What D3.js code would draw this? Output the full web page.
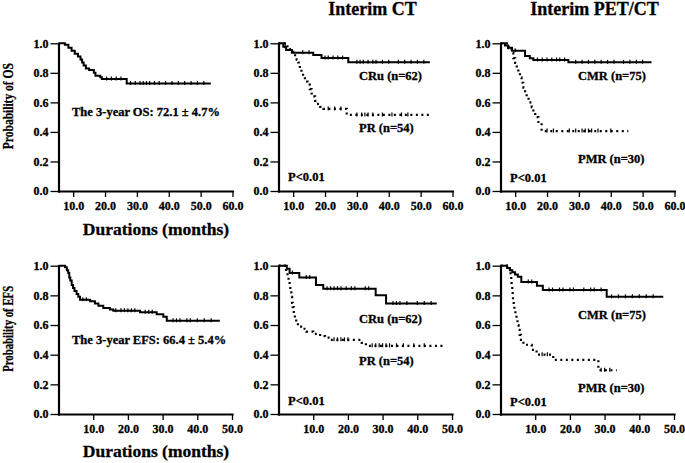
<!DOCTYPE html>
<html><head><meta charset="utf-8">
<script src="https://cdn.jsdelivr.net/npm/d3@7"></script>
<style>
body{margin:0;background:#fff;}
svg text{font-family:"Liberation Serif","Times New Roman",serif;font-weight:bold;fill:#000;stroke:#000;stroke-width:0.3px;}
</style></head>
<body><svg id="c" width="685" height="463"></svg>
<script>
// ---------- DATA ----------
const panelTitles = ["Interim CT", "Interim PET/CT"];
const yTicks = [0, 0.2, 0.4, 0.6, 0.8, 1.0];
const xTicksTop = [10, 20, 30, 40, 50, 60];
const xTicksBottom = [10, 20, 30, 40, 50];
const xDomainTop = [5.4, 60];
const xDomainBottom = [0, 50];

// Overall OS
const osT = [5.4, 7.4, 8.5, 9.5, 10.5, 11.5, 12.3, 12.8, 13.3, 14.0, 15.0, 16.5, 17.0, 18.5, 19.0, 26.8];
const osS = [1.0, 0.99, 0.97, 0.95, 0.93, 0.91, 0.89, 0.87, 0.85, 0.83, 0.82, 0.80, 0.78, 0.77, 0.758, 0.728];
const osEnd = 53.2;
const osCens = [20.5, 22, 23.5, 25, 28, 29.5, 31, 32, 33, 34, 35.5, 37, 39, 41, 43, 45, 47, 49, 51];

// Interim CT, OS
const ctCRuT = [5.4, 6.9, 7.8, 9.6, 16.3, 18.9, 27.3];
const ctCRuS = [1.0, 0.977, 0.955, 0.936, 0.92, 0.90, 0.872];
const ctCRuEnd = 52.9;
const ctCRuCens = [7.5, 13, 15, 20, 21, 22.5, 24, 25.5, 30, 31, 32, 33.5, 35, 36, 38, 40, 43, 45, 47, 49, 51];
const ctPRT = [5.4, 8.0, 9.0, 10.0, 10.6, 11.1, 11.6, 12.1, 12.6, 13.1, 13.7, 14.5, 15.2, 15.8, 16.3, 16.9, 17.4, 18.5, 19.5, 26.8];
const ctPRS = [1.0, 0.98, 0.96, 0.94, 0.91, 0.89, 0.87, 0.83, 0.80, 0.78, 0.74, 0.72, 0.69, 0.66, 0.64, 0.61, 0.59, 0.57, 0.556, 0.515];
const ctPREnd = 52.9;
const ctPRCens = [21, 23, 25, 30, 31.5, 32.5, 33.5, 35, 38, 41, 44, 46];

// Interim PET/CT, OS
const petCMRT = [5.4, 6.8, 7.8, 9.0, 13.1, 14.6, 15.7, 26.7];
const petCMRS = [1.0, 0.985, 0.97, 0.95, 0.914, 0.898, 0.887, 0.871];
const petCMREnd = 52.8;
const petCMRCens = [8, 10, 17, 18.5, 20, 21.5, 23, 24, 25.5, 29, 31, 33, 35, 37, 39, 41, 44, 46, 48, 50];
const petPMRT = [5.4, 7.9, 8.9, 9.4, 10.0, 10.5, 11.0, 11.5, 12.0, 12.6, 13.1, 13.6, 14.2, 15.2, 15.7, 16.3, 17.3, 18.3];
const petPMRS = [1.0, 0.967, 0.933, 0.90, 0.867, 0.833, 0.80, 0.767, 0.733, 0.70, 0.667, 0.633, 0.60, 0.567, 0.533, 0.50, 0.467, 0.406];
const petPMREnd = 45.5;
const petPMRCens = [20, 22, 27, 29, 31, 32, 33, 34, 36, 40];

// Overall EFS
const efsT = [0, 1.9, 2.4, 2.8, 3.1, 3.4, 3.8, 4.2, 4.6, 5.2, 5.7, 6.2, 9.1, 10.5, 11.5, 12.9, 14.8, 15.8, 23.5, 28.3, 30.2, 31.2];
const efsS = [1.0, 0.99, 0.97, 0.95, 0.92, 0.90, 0.87, 0.85, 0.83, 0.81, 0.79, 0.77, 0.76, 0.745, 0.73, 0.715, 0.705, 0.697, 0.686, 0.672, 0.656, 0.628];
const efsEnd = 46.5;
const efsCens = [7, 8, 16.5, 18, 19, 20, 21, 22, 25, 26, 27, 33, 34, 35, 37, 38, 40, 42, 44];

// Interim CT, EFS
const eCRuT = [0, 2.4, 3.2, 6.0, 10.8, 12.9, 28.0, 31.0];
const eCRuS = [1.0, 0.98, 0.95, 0.92, 0.87, 0.845, 0.80, 0.745];
const eCRuEnd = 45.6;
const eCRuCens = [4, 8, 9, 14, 15, 16, 17, 18, 19.5, 21, 22, 25, 26, 33, 34, 35, 37, 40, 42, 44];
const ePRT = [0, 2.2, 2.6, 2.9, 3.2, 3.4, 3.7, 3.9, 4.1, 4.4, 4.7, 5.1, 5.6, 6.5, 8.0, 10.0, 12.0, 13.4, 15.0, 24.0, 25.2];
const ePRS = [1.0, 0.96, 0.93, 0.89, 0.86, 0.82, 0.79, 0.75, 0.72, 0.68, 0.65, 0.62, 0.59, 0.575, 0.555, 0.54, 0.525, 0.515, 0.50, 0.48, 0.46];
const ePREnd = 47.5;
const ePRCens = [16, 17, 18, 19, 20, 27, 28, 29, 30, 31, 32, 34, 36, 39, 42];

// Interim PET/CT, EFS
const eCMRT = [0, 1.9, 2.7, 3.4, 4.2, 5.0, 6.0, 10.5, 12.2, 30.6];
const eCMRS = [1.0, 0.985, 0.97, 0.955, 0.94, 0.925, 0.89, 0.865, 0.836, 0.79];
const eCMREnd = 46.9;
const eCMRCens = [8, 9, 14, 15, 17, 18, 20, 21, 24, 26, 27, 29, 32, 34, 36, 38, 40, 42, 44];
const ePMRT = [0, 2.7, 2.9, 3.1, 3.2, 3.4, 3.5, 3.6, 3.8, 4.0, 4.3, 4.6, 4.9, 5.2, 5.5, 5.9, 6.6, 9.0, 10.4, 15.2, 28.2];
const ePMRS = [1.0, 0.967, 0.933, 0.90, 0.867, 0.833, 0.80, 0.767, 0.733, 0.70, 0.667, 0.633, 0.60, 0.567, 0.533, 0.50, 0.467, 0.433, 0.40, 0.365, 0.295];
const ePMREnd = 33.5;
const ePMRCens = [12, 13.5, 29, 30, 31.5];

// ---------- DRAW ----------
const svg = d3.select("#c");
const FONT = 12.5;

const panels = [
  {row:0, dx:0,   curves:[{t:osT,s:osS,end:osEnd,c:osCens,dash:false}],
   notes:[{x:72, y:116, txt:"The 3-year OS: 72.1 \u00b1 4.7%"}], ylab:"Probability of OS"},
  {row:0, dx:220, curves:[{t:ctCRuT,s:ctCRuS,end:ctCRuEnd,c:ctCRuCens,dash:false},{t:ctPRT,s:ctPRS,end:ctPREnd,c:ctPRCens,dash:true}],
   notes:[{x:359,y:80,txt:"CRu (n=62)"},{x:359,y:132,txt:"PR (n=54)"},{x:288,y:181,txt:"P<0.01"}], title:panelTitles[0]},
  {row:0, dx:442, curves:[{t:petCMRT,s:petCMRS,end:petCMREnd,c:petCMRCens,dash:false},{t:petPMRT,s:petPMRS,end:petPMREnd,c:petPMRCens,dash:true}],
   notes:[{x:578,y:80,txt:"CMR (n=75)"},{x:578,y:163,txt:"PMR (n=30)"},{x:510,y:182,txt:"P<0.01"}], title:panelTitles[1]},
  {row:1, dx:0,   curves:[{t:efsT,s:efsS,end:efsEnd,c:efsCens,dash:false}],
   notes:[{x:72, y:344, txt:"The 3-year EFS: 66.4 \u00b1 5.4%"}], ylab:"Probability of EFS"},
  {row:1, dx:220, curves:[{t:eCRuT,s:eCRuS,end:eCRuEnd,c:eCRuCens,dash:false},{t:ePRT,s:ePRS,end:ePREnd,c:ePRCens,dash:true}],
   notes:[{x:359,y:323,txt:"CRu (n=62)"},{x:359,y:365,txt:"PR (n=54)"},{x:288,y:405,txt:"P<0.01"}]},
  {row:1, dx:442, curves:[{t:eCMRT,s:eCMRS,end:eCMREnd,c:eCMRCens,dash:false},{t:ePMRT,s:ePMRS,end:ePMREnd,c:ePMRCens,dash:true}],
   notes:[{x:578,y:319,txt:"CMR (n=75)"},{x:578,y:392,txt:"PMR (n=30)"},{x:510,y:406,txt:"P<0.01"}]}
];

const rowGeom = [
  {y0:191, y1:43.3, x0:58.5, x1:232.5, dom:xDomainTop, ticks:xTicksTop, xlabY:235},
  {y0:414, y1:265.7, x0:58.5, x1:232, dom:xDomainBottom, ticks:xTicksBottom, xlabY:457}
];

function survAt(t, s, c){
  let v = s[0];
  for(let i=0;i<t.length;i++){ if(t[i] <= c) v = s[i]; }
  return v;
}

panels.forEach(p=>{
  const g = rowGeom[p.row];
  const x = d3.scaleLinear().domain(g.dom).range([g.x0+p.dx, g.x1+p.dx]);
  const y = d3.scaleLinear().domain([0,1]).range([g.y0, g.y1]);

  p.curves.forEach(cv=>{
    const pts = cv.t.map((t,i)=>[t, cv.s[i]]);
    pts.push([cv.end, cv.s[cv.s.length-1]]);
    const line = d3.line().x(d=>x(d[0])).y(d=>y(d[1])).curve(d3.curveStepAfter);
    svg.append("path").attr("d", line(pts)).attr("fill","none").attr("stroke","#000")
      .attr("stroke-width", cv.dash ? 2.2 : 2)
      .attr("stroke-dasharray", cv.dash ? "2,3.5" : null);
    svg.append("g").selectAll("line").data(cv.c).join("line")
      .attr("x1", d=>x(d)).attr("x2", d=>x(d))
      .attr("y1", d=>y(survAt(cv.t, cv.s, d))-2.5)
      .attr("y2", d=>y(survAt(cv.t, cv.s, d))+1.5)
      .attr("stroke","#000").attr("stroke-width",1.2);
  });

  const ay = svg.append("g").attr("transform",`translate(${g.x0+p.dx},0)`)
    .call(d3.axisLeft(y).tickValues(yTicks).tickFormat(d3.format(".1f")).tickSize(8).tickPadding(2).tickSizeOuter(0));
  const ax = svg.append("g").attr("transform",`translate(0,${g.y0})`)
    .call(d3.axisBottom(x).tickValues(g.ticks).tickFormat(d3.format(".1f")).tickSize(6).tickPadding(4).tickSizeOuter(0));
  [ay, ax].forEach(a=>{
    a.select(".domain").attr("stroke","#000").attr("stroke-width",2.2).attr("stroke-linecap","square");
    a.selectAll(".tick line").attr("stroke","#000").attr("stroke-width",1.3);
    a.selectAll(".tick text").style("font-size","12px").attr("fill","#000");
    a.attr("font-family",null).attr("font-size",null);
  });

  p.notes.forEach(n=>{
    svg.append("text").attr("x",n.x).attr("y",n.y).style("font-size",FONT+"px").text(n.txt);
  });

  if(p.title){
    svg.append("text").attr("x",(g.x0+g.x1)/2+p.dx+7).attr("y",15).attr("text-anchor","middle")
      .style("font-size","18px").text(p.title);
  }
  if(p.ylab){
    const cy = (g.y0+g.y1)/2 - 11;
    svg.append("text").attr("transform",`translate(13,${cy}) rotate(-90)`).attr("text-anchor","middle")
      .style("font-size","15px").attr("textLength",86).attr("lengthAdjust","spacingAndGlyphs").text(p.ylab);
    svg.append("text").attr("x",156).attr("y",g.xlabY).attr("text-anchor","middle")
      .style("font-size","17.5px").text("Durations (months)");
  }
});
</script></body></html>
